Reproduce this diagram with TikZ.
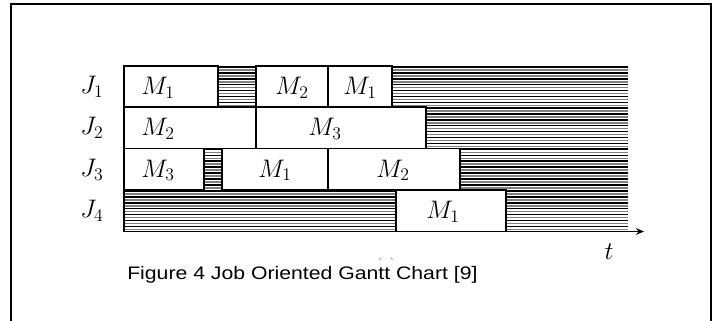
\RequirePackage{fix-cm}
\documentclass[tikz,border=0pt]{standalone}
\usepackage{fontspec}
\newfontfamily\capfont{Liberation Sans}
\usetikzlibrary{arrows.meta}

% hatched idle period: alternating black and grey horizontal rules
\newcommand\idle[4]{% x-left, x-right, y-top, y-bottom
  \begin{scope}
    \clip (#1,#3) rectangle (#2,#4);
    \foreach \k in {0,...,7} {
      \draw[black, line width=1.2pt] (#1,#3+1+5.9*\k) -- (#2,#3+1+5.9*\k);
      \draw[black!50, line width=1.2pt] (#1,#3+3.95+5.9*\k) -- (#2,#3+3.95+5.9*\k);
    }
  \end{scope}}

% operation box: name, x-left, x-right, y-top, y-bottom, label x, label
\newcommand\task[7]{%
  \node[taskbox, minimum width={(#3-#2)*0.75pt}, minimum height={(#5-#4)*0.75pt}]
    (#1) at ({(#2+#3)/2},{(#4+#5)/2}) {};
  \node[mlabel] (#1-l) at (#6,{(#4+#5)/2+1}) {$#7$};}

\begin{document}
\begin{tikzpicture}[x=0.75pt,y=-0.75pt,
  taskbox/.style={rectangle, draw=black, line width=1pt, fill=white, inner sep=0pt, outer sep=0pt},
  mlabel/.style={inner sep=0pt, font=\fontsize{19}{22}\selectfont},
  jlabel/.style={inner sep=0pt, font=\fontsize{19}{22}\selectfont},
  frame/.style={line width=1.5pt, draw=black}]
\useasboundingbox (0,0) rectangle (715,321);

% outer frame (open at the bottom)
\draw[frame] (10.7,330) -- (10.7,4) -- (711,4) -- (711,330);

% idle periods
\idle{218}{256}{66}{107}
\idle{392}{628}{66}{107}
\idle{426}{628}{107}{148.5}
\idle{204}{222}{148.5}{190}
\idle{460}{628}{148.5}{190}
\idle{124}{396}{190}{231.5}
\idle{506}{628}{190}{231.5}

% job J1
\task{a1}{124}{218}{66}{107}{158}{M_1}
\task{a2}{256}{328}{66}{107}{292}{M_2}
\task{a3}{328}{392}{66}{107}{360}{M_1}
% job J2
\task{b1}{124}{256}{107}{148.5}{158}{M_2}
\task{b2}{256}{426}{107}{148.5}{325}{M_3}
% job J3
\task{c1}{124}{204}{148.5}{190}{158}{M_3}
\task{c2}{222}{328}{148.5}{190}{275}{M_1}
\task{c3}{328}{460}{148.5}{190}{393}{M_2}
% job J4
\task{d1}{396}{506}{190}{231.5}{443}{M_1}

% job labels
\node[jlabel] (j1) at (92,87) {$J_1$};
\node[jlabel] (j2) at (92,128) {$J_2$};
\node[jlabel] (j3) at (92,170) {$J_3$};
\node[jlabel] (j4) at (92,211) {$J_4$};

% time axis
\coordinate (top) at (124,66);
\coordinate (origin) at (124,231.5);
\coordinate (tend) at (644,231.5);
\draw[line width=1pt] (top) -- (origin);
\draw[line width=1pt, -{Stealth[length=6pt,width=5pt]}] (origin) -- (tend);
\node[jlabel] (t) at (609,252) {$t$};

% remnant of a sub-figure tag, mostly hidden
\begin{scope}
  \clip (360,252) rectangle (405,259.5);
  \node[font=\capfont\fontsize{11}{13}\selectfont, text=gray!70, inner sep=0pt] (sub) at (386,265) {(a)};
\end{scope}

% caption
\node[anchor=base west, inner sep=0pt, font=\capfont\fontsize{13.6}{16}\selectfont] (cap) at (127,279)
  {\scalebox{1.17}[1]{Figure 4 Job Oriented Gantt Chart [9]}};
\end{tikzpicture}
\end{document}
